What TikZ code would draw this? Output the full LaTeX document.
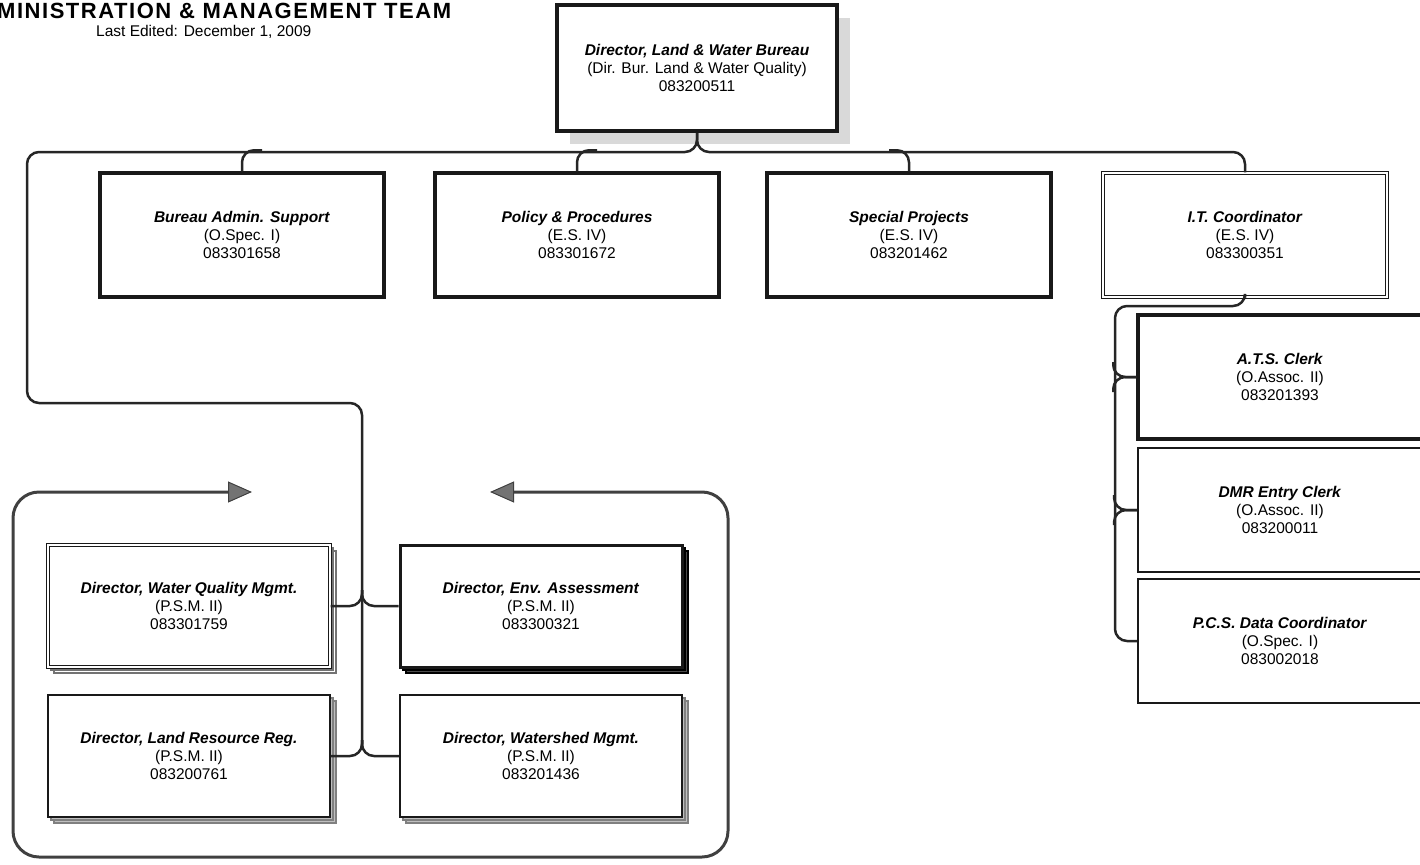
\documentclass[tikz,border=0pt]{standalone}
\usepackage{fontspec}
\setmainfont{Liberation Sans}
\newfontfamily\titlefont[LetterSpace=7]{Liberation Sans}
\usetikzlibrary{arrows.meta,shadows}

\newcommand\postxt[3]{\textbf{\textit{#1}}\\(#2)\\#3}

\begin{document}
\begin{tikzpicture}[x=1pt,y=-1pt,font=\fontsize{15.5}{18.3}\selectfont,
  postbox/.style={draw=black!90,fill=white,align=center,inner sep=2pt,
    minimum width=284pt,minimum height=124pt},
  heavybox/.style={postbox,line width=3.5pt},
  lightbox/.style={postbox,line width=1.8pt},
  twinbox/.style={postbox,line width=1.2pt,double=white,double distance=2pt},
  stackbox/.style={postbox,minimum width=282pt,minimum height=122pt,
    double copy shadow={shadow xshift=3pt,shadow yshift=-3pt,draw=#1,fill=white,line width=1.2pt}},
  wire/.style={line width=2.5pt,black!85,rounded corners=12pt},
  headtip/.tip={Triangle[length=24pt,width=21pt,fill=black!55,line width=1pt]},
  ringline/.style={line width=3pt,black!75,rounded corners=26pt,headtip-headtip}]
  \useasboundingbox (0,0) rectangle (1420,864);

  \node[anchor=base west,inner sep=0,font={\titlefont\fontsize{22}{24}\selectfont\bfseries}] (title) at (-3,19)
    {MINISTRATION \& MANAGEMENT TEAM};
  \node[anchor=base west,inner sep=0] (edited) at (96,37) {Last Edited: December 1, 2009};

  \node[heavybox,line width=4pt,minimum width=280pt,minimum height=126pt,
    drop shadow={shadow xshift=13pt,shadow yshift=-13pt,fill=gray!30,opacity=1}] (dir) at (697,68)
    {\postxt{Director, Land \& Water Bureau}{Dir. Bur. Land \& Water Quality}{083200511}};

  \foreach \id/\x/\t/\g/\n in {admin/242/Bureau Admin. Support/O.Spec. I/083301658,
      policy/577/Policy \& Procedures/E.S. IV/083301672,
      special/909/Special Projects/E.S. IV/083201462}
    \node[heavybox] (\id) at (\x,235) {\postxt{\t}{\g}{\n}};
  \node[twinbox] (itc) at (1245,235) {\postxt{I.T. Coordinator}{E.S. IV}{083300351}};

  \foreach \id/\y/\s/\t/\g/\n in {ats/377/heavybox/A.T.S. Clerk/O.Assoc. II/083201393,
      dmr/510/lightbox/DMR Entry Clerk/O.Assoc. II/083200011,
      pcs/641/lightbox/P.C.S. Data Coordinator/O.Spec. I/083002018}
    \node[\s] (\id) at (1280,\y) {\postxt{\t}{\g}{\n}};

  \node[stackbox=black!55,twinbox,minimum width=282pt,minimum height=122pt] (wqm) at (189,606)
    {\postxt{Director, Water Quality Mgmt.}{P.S.M. II}{083301759}};
  \node[postbox,line width=3pt,minimum width=282pt,minimum height=122pt,
    double copy shadow={shadow xshift=3pt,shadow yshift=-3pt,draw=black,fill=black!70,line width=1.2pt}] (env) at (541,606)
    {\postxt{Director, Env. Assessment}{P.S.M. II}{083300321}};
  \node[postbox,line width=1.8pt,minimum width=282pt,minimum height=122pt,
    double copy shadow={shadow xshift=3pt,shadow yshift=-3pt,draw=gray,fill=gray!50,line width=1.4pt}] (lrr) at (189,756)
    {\postxt{Director, Land Resource Reg.}{P.S.M. II}{083200761}};
  \node[postbox,line width=1.8pt,minimum width=282pt,minimum height=122pt,
    double copy shadow={shadow xshift=3pt,shadow yshift=-3pt,draw=gray,fill=gray!50,line width=1.4pt}] (wsm) at (541,756)
    {\postxt{Director, Watershed Mgmt.}{P.S.M. II}{083201436}};

  \draw[wire] (dir.south) -- (697,152) -- (27,152) -- (27,403) -- (362,403) -- (362,745);
  \draw[wire] (dir.south) -- (697,152) -- (1245,152) -- (itc.north);
  \foreach \id/\d in {admin/20,policy/20,special/-20}
    \draw[wire] (\id.north) |- ++(\d,-21);

  \foreach \y/\l/\r in {606/wqm/env,756/lrr/wsm}{
    \draw[wire] (\l.east) -- (362,\y) -- (362,\y-16);
    \draw[wire] (\r.west) -- (362,\y) -- (362,\y-16);
  }

  \draw[wire] (itc.south) -- (1245,306) -- (1115,306) -- (1115,641) -- (pcs.west);
  \foreach \id in {ats,dmr}{
    \draw[wire] (\id.west) -| ++(-23,-15);
    \draw[wire] (\id.west) -| ++(-23,15);
  }

  \coordinate (backin) at (490,492);
  \coordinate (backout) at (252,492);
  \draw[ringline] (backin) -- (728,492) -- (728,857) -- (13,857) -- (13,492) -- (backout);
\end{tikzpicture}
\end{document}
